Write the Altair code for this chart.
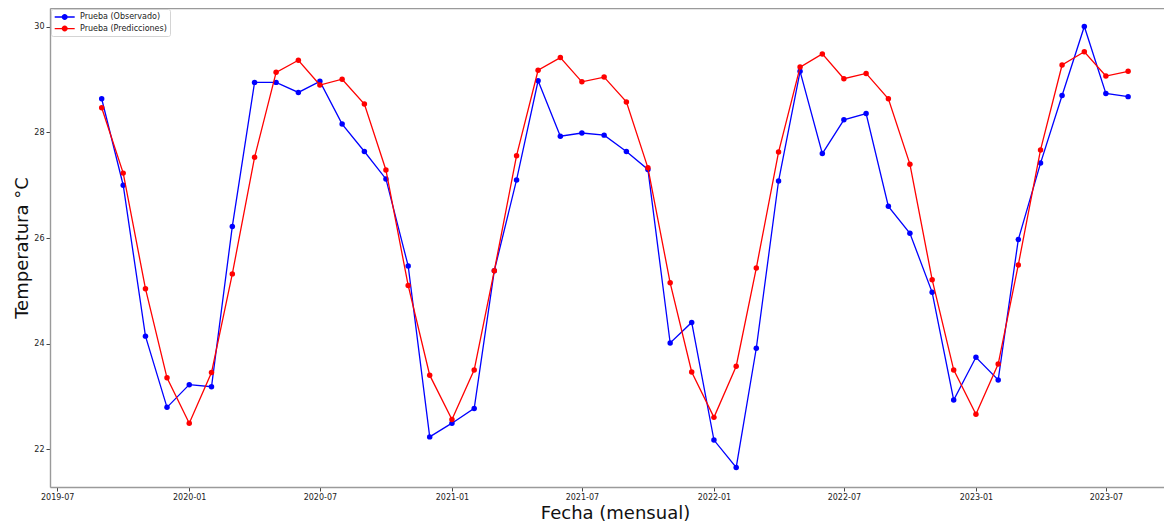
import altair as alt
import pandas as pd

# ---- data ----
fechas = pd.date_range("2019-09-01", periods=48, freq="MS").strftime("%Y-%m-%d").tolist()

observado = [28.64, 27.00, 24.14, 22.79,
             23.22, 23.18, 26.22, 28.95, 28.95, 28.76, 28.97, 28.16, 27.64, 27.12, 25.47, 22.23,
             22.49, 22.77, 25.38, 27.10, 28.98, 27.93, 27.99, 27.95, 27.64, 27.30, 24.01, 24.40,
             22.17, 21.65, 23.91, 27.08, 29.16, 27.60, 28.24, 28.36, 26.60, 26.09, 24.97, 22.93,
             23.74, 23.31, 25.97, 27.42, 28.70, 30.01, 28.74, 28.68]

predicciones = [28.47, 27.23, 25.04, 23.35,
                22.49, 23.45, 25.32, 27.53, 29.14, 29.37, 28.90, 29.01, 28.54, 27.29, 25.10, 23.40,
                22.56, 23.50, 25.38, 27.56, 29.18, 29.42, 28.96, 29.05, 28.58, 27.33, 25.15, 23.46,
                22.60, 23.57, 25.43, 27.63, 29.24, 29.49, 29.02, 29.12, 28.64, 27.40, 25.21, 23.50,
                22.66, 23.61, 25.49, 27.67, 29.28, 29.53, 29.07, 29.16]

series = ["Prueba (Observado)", "Prueba (Predicciones)"]
colores = ["#0000ff", "#ff0000"]
y_ticks = [22, 24, 26, 28, 30]
x_ticks = [(2019, 7), (2020, 1), (2020, 7), (2021, 1), (2021, 7),
           (2022, 1), (2022, 7), (2023, 1), (2023, 7)]

df = pd.DataFrame({
    "fecha": fechas * 2,
    "serie": [series[0]] * len(fechas) + [series[1]] * len(fechas),
    "valor": observado + predicciones,
})

W, H = 1114, 479
FONT = "DejaVu Sans"
FRAME = "#9a9a9a"

xscale = alt.Scale(type="utc",
                   domain=[alt.DateTime(year=2019, month=6, date=21, utc=True),
                           alt.DateTime(year=2023, month=9, date=20, utc=True)])
yscale = alt.Scale(domain=[21.28, 30.36], zero=False, nice=False)

x_bottom = alt.X("fecha:T", scale=xscale, axis=alt.Axis(
    orient="bottom",
    values=[alt.DateTime(year=y, month=m, date=1, utc=True) for y, m in x_ticks],
    format="%Y-%m", labelFont=FONT, labelFontSize=8, labelColor="#222",
    labelPadding=2, tickSize=4, tickColor="#444", tickWidth=1,
    domain=True, domainColor=FRAME, domainWidth=1.4, grid=False,
    title="Fecha (mensual)", titleFont=FONT, titleFontSize=18, titleFontWeight="normal",
    titleColor="#111", titleBaseline="alphabetic", titleY=31, titleX=565, titleAlign="center"))
x_top = alt.X("fecha:T", scale=xscale, axis=alt.Axis(
    orient="top", labels=False, ticks=False, grid=False, domain=True,
    domainColor=FRAME, domainWidth=1.4, title=None))
x_none = alt.X("fecha:T", scale=xscale, axis=None)

y_left = alt.Y("valor:Q", scale=yscale, axis=alt.Axis(
    orient="left", values=y_ticks, labelFont=FONT, labelFontSize=8,
    labelColor="#222", labelPadding=2, tickSize=4, tickColor="#444", tickWidth=1,
    domain=True, domainColor=FRAME, domainWidth=1.4, grid=False,
    title="Temperatura °C", titleFont=FONT, titleFontSize=18, titleFontWeight="normal",
    titleColor="#111", titleAngle=270, titleBaseline="alphabetic", titleX=-23,
    titleY=H / 2, titleAlign="center"))

# legend symbol: short line with a dot in the middle (unit = 5 px at size 100)
SYMBOL = ("M-0.86,-0.13L3.14,-0.13L3.14,0.13L-0.86,0.13Z "
          "M0.54,0A0.6,0.6 0 1,1 1.74,0A0.6,0.6 0 1,1 0.54,0Z")

cscale = alt.Scale(domain=series, range=colores)
legend = alt.Legend(
    title=None, orient="none", legendX=1, legendY=1, direction="vertical",
    labelFont=FONT, labelFontSize=8, labelColor="#222", labelOffset=16,
    symbolType=SYMBOL, symbolSize=100, symbolStrokeWidth=0, symbolOpacity=1,
    padding=3, rowPadding=2.6, strokeColor="#d4d4d4", fillColor="white", cornerRadius=2)

def layer(name, x_enc, kind):
    base = alt.Chart(df).transform_filter(alt.datum.serie == name)
    if kind == "line":
        return base.mark_line(strokeWidth=1.3).encode(
            x=x_enc, y=y_left,
            color=alt.Color("serie:N", scale=cscale, legend=legend))
    return base.mark_point(filled=True, size=30, opacity=1).encode(
        x=x_enc, y=y_left,
        color=alt.Color("serie:N", scale=cscale, legend=legend))

chart = alt.layer(
    layer(series[0], x_bottom, "line"),
    layer(series[0], x_none, "point"),
    layer(series[1], x_top, "line"),
    layer(series[1], x_none, "point"),
).properties(
    width=W, height=H,
    padding={"left": 42, "top": 0, "right": 0, "bottom": 34},
    autosize=alt.AutoSizeParams(type="none"),
).configure_view(strokeWidth=0).configure(background="white")

chart.save("out.html", embed_options={"renderer": "svg", "actions": False})
